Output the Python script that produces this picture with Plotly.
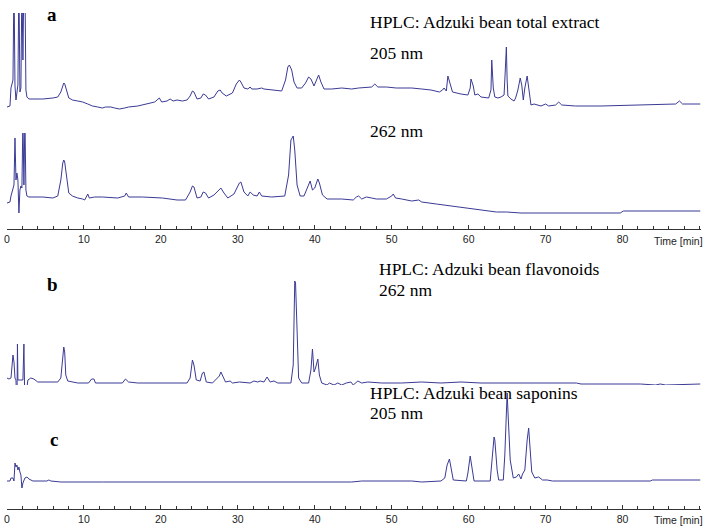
import plotly.graph_objects as go

# retention time (min) and detector signal (arbitrary units above each trace's own zero)
t_205 = [0.0, 0.39, 0.52, 0.65, 0.78, 0.91, 0.97, 1.04, 1.17, 1.29, 1.42, 1.55, 1.61, 1.68, 1.81, 1.94, 2.07, 2.2, 2.33,
         2.46, 2.59, 2.85, 3.37, 4.66, 5.96, 6.6, 7.0, 7.25, 7.38, 7.51, 7.77, 8.03, 8.3, 8.5, 9.2, 9.84, 10.5, 11.1, 11.8,
         12.4, 12.8, 13.5, 14.0, 14.6, 15.3, 15.8, 17.0, 18.3, 19.2, 19.5, 19.8, 20.1, 20.8, 21.2, 21.6, 22.1, 22.8, 23.4,
         23.8, 24.1, 24.3, 24.7, 25.2, 25.5, 25.8, 26.2, 26.9, 27.4, 27.7, 27.96, 28.5, 29.3, 29.8, 30.2, 30.4, 30.8, 31.3,
         31.6, 31.8, 32.5, 33.1, 33.4, 34.4, 35.7, 36.2, 36.5, 36.7, 37.0, 37.3, 37.7, 38.3, 38.8, 39.2, 39.5, 39.9, 40.3,
         40.5, 40.8, 41.2, 42.2, 43.5, 44.8, 45.7, 47.4, 47.8, 48.2, 49.3, 50.6, 52.6, 53.9, 55.1, 56.2, 56.6, 56.8, 57.1,
         57.3, 57.6, 57.9, 59.0, 59.9, 60.2, 60.3, 60.6, 60.8, 61.2, 61.6, 62.6, 62.9, 63.0, 63.2, 63.4, 63.8, 64.2, 64.6,
         64.7, 64.9, 65.0, 65.1, 65.5, 65.9, 66.1, 66.4, 66.7, 66.9, 67.1, 67.3, 67.6, 67.8, 68.1, 68.5, 69.4, 70.0, 70.4,
         71.3, 71.7, 72.1, 73.9, 77.2, 82.3, 86.9, 87.4, 87.8, 90.1]
a_205 = [13, 14, 32, 36, 40, 140, 40, 34, 20, 28, 35, 140, 35, 28, 32, 140, 60, 140, 140,
         30, 23, 21, 21, 21, 22, 23, 28, 35, 37, 36, 28, 22, 21, 20, 19, 18, 16, 14, 13,
         12, 13, 13, 12, 11, 12, 13, 14, 16, 18, 20, 22, 18, 19, 21, 19, 20, 19, 20,
         24, 29, 28, 21, 22, 26, 25, 21, 23, 29, 30, 27, 24, 27, 36, 40, 38, 32, 31,
         33, 31, 31, 32, 31, 30, 29, 40, 53, 55, 50, 38, 32, 32, 37, 43, 41, 34, 42,
         45, 38, 31, 31, 32, 31, 32, 33, 36, 33, 33, 32, 32, 31, 30, 28, 30, 32, 29,
         44, 35, 28, 26, 25, 32, 41, 34, 25, 26, 23, 22, 30, 60, 32, 23, 22, 23, 25,
         40, 73, 40, 24, 21, 19, 22, 30, 42, 35, 20, 32, 44, 30, 15, 16, 14, 16, 14,
         15, 18, 15, 14, 14, 15, 16, 19, 16, 16]

t_262 = [0.0, 0.39, 0.52, 0.78, 0.91, 1.04, 1.1, 1.17, 1.29, 1.42, 1.55, 1.68, 1.81, 1.94, 2.07, 2.2, 2.33, 2.46, 2.59,
         2.85, 4.66, 5.96, 6.6, 7.0, 7.25, 7.38, 7.5, 7.77, 8.03, 8.5, 9.2, 9.84, 10.1, 10.5, 10.7, 11.4, 12.4, 14.4,
         15.3, 15.5, 15.8, 17.6, 20.2, 22.1, 23.2, 23.8, 24.1, 24.3, 24.7, 25.2, 25.5, 25.8, 26.2, 26.9, 27.6, 27.8,
         28.2, 28.7, 29.5, 30.2, 30.4, 30.8, 31.3, 31.6, 32.0, 32.5, 32.8, 33.1, 34.4, 36.1, 36.6, 36.9, 37.2, 37.4,
         37.7, 38.1, 38.6, 39.0, 39.4, 39.7, 40.0, 40.4, 40.6, 41.0, 41.6, 43.5, 45.0, 45.4, 45.7, 46.1, 46.7, 47.4,
         48.0, 49.3, 50.0, 50.2, 50.5, 51.3, 52.6, 53.5, 53.9, 55.8, 57.7, 59.7, 61.6, 63.6, 64.9, 66.8, 72.0, 79.7,
         80.1, 84.9, 90.1]
a_262 = [17, 18, 24, 32, 35, 82, 50, 40, 47, 40, 7, 30, 34, 32, 100, 35, 100, 30, 24,
         23, 23, 22, 24, 40, 57, 60, 58, 40, 27, 24, 22, 21, 20, 26, 22, 23, 23, 22,
         24, 27, 23, 23, 22, 20, 20, 28, 34, 33, 22, 23, 28, 27, 22, 25, 31, 32,
         27, 22, 26, 37, 38, 28, 24, 28, 25, 24, 28, 24, 23, 24, 45, 80, 84, 70,
         35, 24, 24, 32, 39, 30, 32, 41, 37, 25, 21, 21, 20, 23, 24, 21, 23, 22,
         21, 21, 24, 26, 22, 21, 19, 20, 18, 16, 14, 12, 10, 8, 8, 7, 7, 7,
         9, 9, 9]

t_flav = [0.0, 0.26, 0.52, 0.65, 0.78, 0.91, 1.04, 1.17, 1.29, 1.36, 1.42, 1.81, 2.07, 2.2, 2.33, 2.46, 2.72, 3.1,
          3.5, 4.0, 5.3, 6.6, 7.0, 7.25, 7.38, 7.5, 7.64, 7.9, 8.5, 9.2, 10.6, 11.0, 11.3, 11.5, 15.0, 15.4, 15.8,
          17.0, 23.4, 23.8, 24.1, 24.3, 24.6, 25.1, 25.4, 25.6, 25.9, 26.7, 27.6, 27.8, 28.1, 28.4, 29.0, 29.3,
          30.2, 31.6, 32.1, 32.6, 32.9, 33.4, 33.8, 34.2, 34.7, 35.2, 36.9, 37.2, 37.4, 37.5, 37.7, 37.9, 38.3,
          39.2, 39.5, 39.7, 39.9, 40.1, 40.4, 40.6, 40.9, 41.6, 41.9, 42.5, 43.0, 43.5, 44.1, 44.7, 45.0, 45.6,
          46.1, 46.9, 48.7, 51.3, 53.9, 56.4, 59.0, 61.6, 64.2, 68.1, 72.0, 74.0, 74.6, 82.3, 84.3, 84.9, 85.6,
          90.1]
a_flav = [42, 41, 42, 58, 65, 58, 42, 40, 10, 76, 40, 40, 40, 76, 10, 25, 40, 42,
          41, 38, 38, 38, 42, 68, 73, 68, 45, 39, 38, 37, 37, 41, 41, 37, 37, 41, 38,
          37, 37, 42, 60, 55, 40, 39, 47, 48, 38, 37, 44, 48, 43, 38, 39, 37,
          38, 37, 39, 38, 39, 38, 43, 38, 39, 37, 37, 55, 139, 137, 90, 42, 37,
          37, 50, 71, 48, 52, 61, 45, 37, 35, 37, 35, 37, 35, 37, 38, 35, 39,
          37, 38, 37, 37, 38, 37, 38, 37, 37, 37, 37, 37, 36, 36, 35, 36, 35,
          36]

t_sap = [0.0, 0.39, 0.52, 0.78, 0.91, 1.04, 1.17, 1.29, 1.42, 1.55, 1.68, 1.81, 1.94, 2.07, 2.33, 2.59, 2.85, 3.37,
         5.18, 5.44, 5.7, 7.0, 12.4, 28.0, 38.3, 44.8, 46.1, 52.6, 53.9, 56.4, 56.9, 57.2, 57.5, 57.7, 58.0, 59.7,
         59.9, 60.2, 60.5, 60.7, 62.8, 63.0, 63.3, 63.4, 63.7, 63.9, 64.5, 64.7, 65.0, 65.1, 65.4, 65.8, 66.2,
         66.5, 66.8, 67.0, 67.3, 67.6, 67.8, 67.95, 68.2, 68.6, 69.1, 69.6, 70.2, 70.9, 72.0, 83.6, 83.9, 90.1]
a_sap = [19, 19, 22, 22, 19, 37, 33, 35, 30, 33, 28, 25, 12, 17, 22, 23, 21, 19,
         19, 20, 19, 18, 18, 18, 18, 18, 19, 19, 18, 19, 22, 35, 41, 32, 20, 19,
         27, 44, 30, 19, 19, 35, 63, 60, 30, 20, 20, 45, 107, 90, 40, 22, 23,
         26, 21, 26, 30, 60, 72, 55, 28, 22, 23, 20, 20, 19, 19, 19, 20, 20]

tick_vals = [0, 10, 20, 30, 40, 50, 60, 70, 80]

W, H = 710, 527
LINE = "rgb(58,58,150)"


def py(y):
    # pixel row -> paper fraction
    return 1 - y / H


def dom(top, bottom):
    return [py(bottom), py(top)]


fig = go.Figure()
traces = [
    (t_205, a_205, "x", "y"),
    (t_262, a_262, "x", "y2"),
    (t_flav, a_flav, "x2", "y3"),
    (t_sap, a_sap, "x2", "y4"),
]
for t, a, xa, ya in traces:
    fig.add_trace(go.Scatter(x=t, y=a, mode="lines", xaxis=xa, yaxis=ya,
                             line=dict(color=LINE, width=1), showlegend=False))

xcommon = dict(
    domain=[4 / W, 701 / W], range=[0, 90.2], anchor="free",
    showline=True, linecolor="#333", linewidth=1, showgrid=False, zeroline=False,
    tickvals=tick_vals, ticks="inside", ticklen=4, tickcolor="#333",
    minor=dict(dtick=2, tick0=0, ticks="inside", ticklen=3, tickcolor="#333", showgrid=False),
    tickfont=dict(family="Liberation Sans, Arial", size=10.5, color="#222"),
)
ycommon = dict(visible=False, showgrid=False, zeroline=False, fixedrange=True)

fig.update_layout(
    width=W, height=H,
    margin=dict(l=0, r=0, t=0, b=0),
    paper_bgcolor="white", plot_bgcolor="white",
    xaxis=dict(xcommon, position=py(229)),
    xaxis2=dict(xcommon, position=py(509)),
    yaxis=dict(ycommon, anchor="x", domain=dom(13, 120), range=[0, 107]),
    yaxis2=dict(ycommon, anchor="x", domain=dom(133, 220), range=[0, 87]),
    yaxis3=dict(ycommon, anchor="x2", domain=dom(270, 420), range=[0, 150]),
    yaxis4=dict(ycommon, anchor="x2", domain=dom(385, 500), range=[0, 115]),
)

serif = "Liberation Serif, Times New Roman, serif"
texts = [
    ("a", 49, 15, "center", 19, True),
    ("b", 50, 284, "center", 19, True),
    ("c", 51, 439, "center", 19, True),
    ("HPLC: Adzuki bean total extract", 367, 22, "left", 17.5, False),
    ("205 nm", 367, 53, "left", 17.5, False),
    ("262 nm", 367, 131, "left", 17.5, False),
    ("HPLC: Adzuki bean flavonoids", 376, 269, "left", 17.5, False),
    ("262 nm", 376, 290, "left", 17.5, False),
    ("HPLC: Adzuki bean saponins", 367, 393, "left", 17.5, False),
    ("205 nm", 367, 413, "left", 17.5, False),
]
for txt, x, y, xanc, size, bold in texts:
    fig.add_annotation(text=f"<b>{txt}</b>" if bold else txt, xref="paper", yref="paper",
                       x=x / W, y=py(y), xanchor=xanc, yanchor="middle", showarrow=False,
                       font=dict(family=serif, size=size, color="black"))

for y in (241, 520):
    fig.add_annotation(text="Time [min]", xref="paper", yref="paper", x=678 / W, y=py(y),
                       xanchor="center", yanchor="middle", showarrow=False,
                       font=dict(family="Liberation Sans, Arial", size=10.5, color="#222"))

# drop the browser's default body margin so the figure sits at the window's corner
fig.write_html("out.html", config={"displayModeBar": False},
               post_script="document.body.style.margin='0';")
